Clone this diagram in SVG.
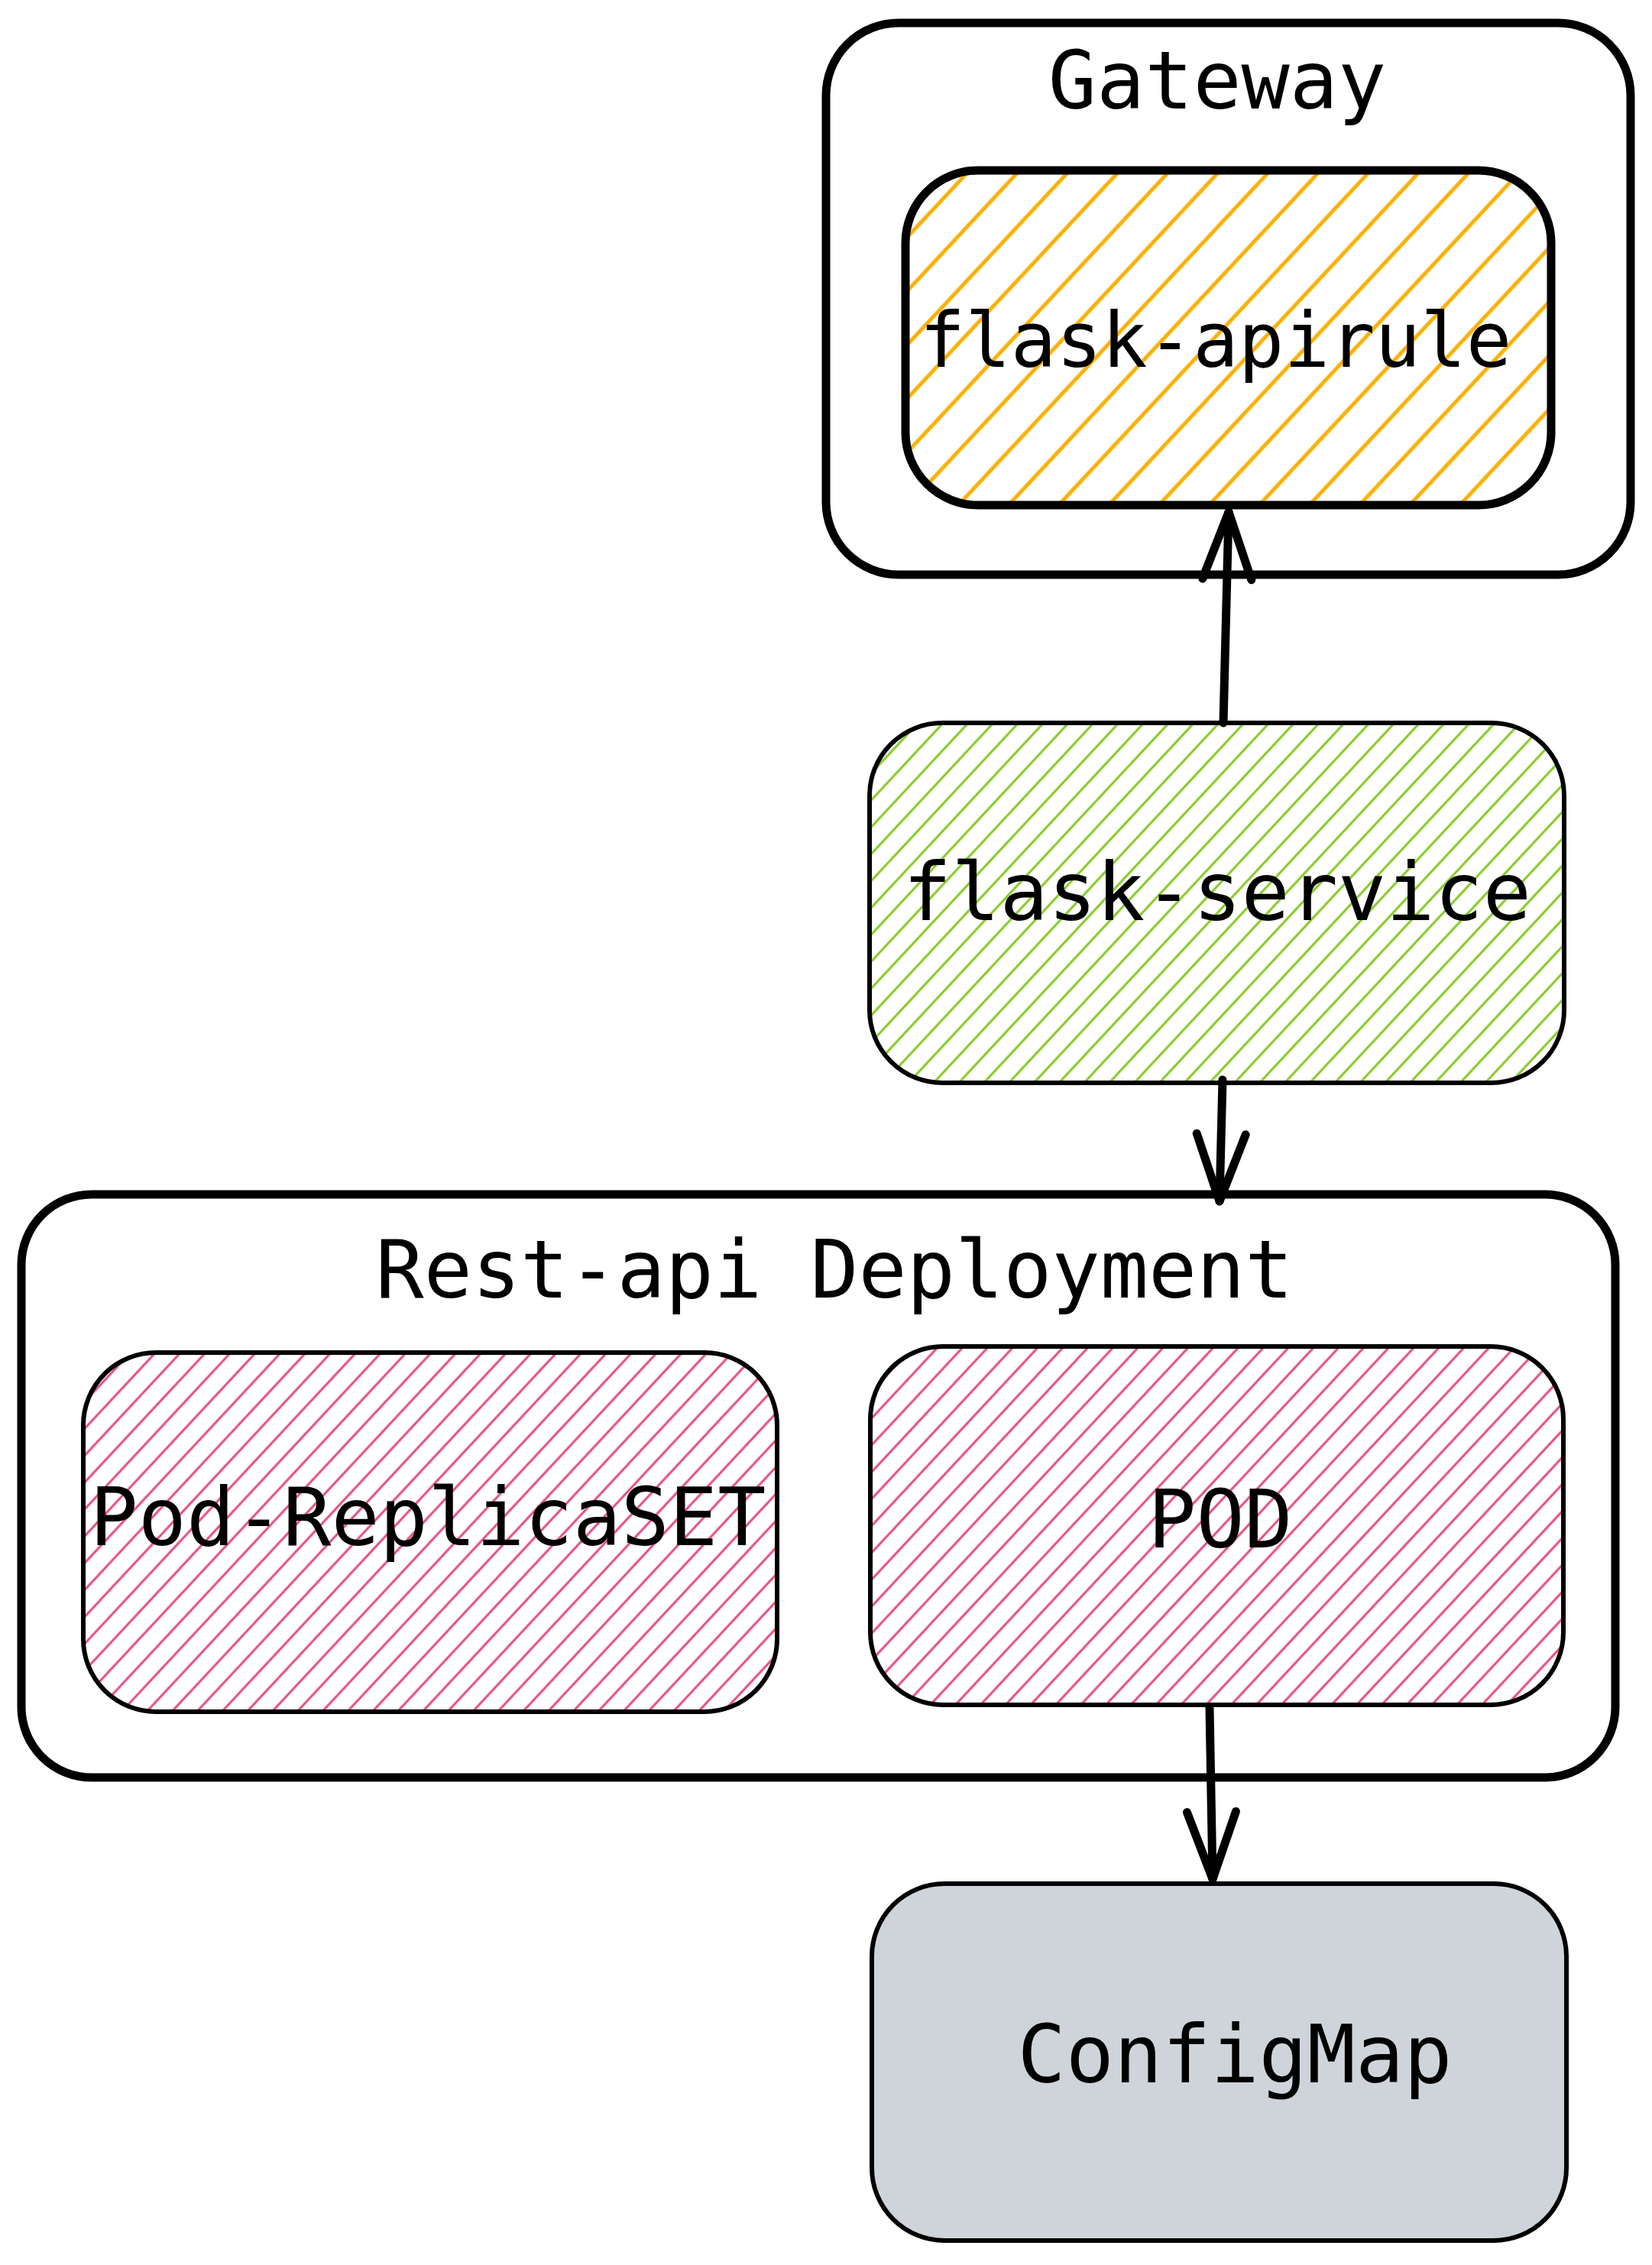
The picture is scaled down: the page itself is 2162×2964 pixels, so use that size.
<svg xmlns="http://www.w3.org/2000/svg" width="2162" height="2964" viewBox="0 0 2162 2964">
<style>
.box{fill:none;stroke:#000;stroke-linejoin:round}
.thick{stroke-width:11}
.thin{stroke-width:6}
.lbl{font-family:"DejaVu Sans Mono","Liberation Mono",monospace;font-size:105px;fill:#000;text-anchor:middle}
.conn{fill:none;stroke:#000;stroke-width:11;stroke-linecap:round;stroke-linejoin:round}
</style>
<defs>
<pattern id="hOrange" patternUnits="userSpaceOnUse" width="48" height="48" patternTransform="rotate(43)">
<line x1="24" y1="-2" x2="24" y2="50" stroke="#fab005" stroke-width="5"/>
</pattern>
<pattern id="hGreen" patternUnits="userSpaceOnUse" width="24" height="24" patternTransform="rotate(43)">
<line x1="12" y1="-2" x2="12" y2="26" stroke="#82c91e" stroke-width="3"/>
</pattern>
<pattern id="hRed" patternUnits="userSpaceOnUse" width="24" height="24" patternTransform="rotate(43)">
<line x1="12" y1="-2" x2="12" y2="26" stroke="#e64980" stroke-width="3"/>
</pattern>
<marker id="arrow" markerUnits="userSpaceOnUse" markerWidth="10" markerHeight="10" refX="0" refY="0" orient="auto" style="overflow:visible">
<path d="M-88,-32 L0,0 L-88,32" fill="none" stroke="#000" stroke-width="11" stroke-linecap="round" stroke-linejoin="round"/>
</marker>
</defs>

<g id="gateway">
<rect class="box thick" x="1081" y="30" width="1053" height="722" rx="95" ry="95"/>
<text class="lbl" x="1593" y="142">Gateway</text>
</g>

<g id="flask-apirule">
<rect x="1185" y="223" width="845" height="438" rx="95" ry="95" fill="url(#hOrange)"/>
<rect class="box thick" x="1185" y="223" width="845" height="438" rx="95" ry="95"/>
<text class="lbl" x="1591" y="480" style="font-size:99px">flask-apirule</text>
</g>

<g id="flask-service">
<rect x="1138" y="946" width="909" height="471" rx="95" ry="95" fill="url(#hGreen)"/>
<rect class="box thin" x="1138" y="946" width="909" height="471" rx="95" ry="95"/>
<text class="lbl" x="1593" y="1204">flask-service</text>
</g>

<g id="rest-api-deployment">
<rect class="box thick" x="28" y="1563" width="2086" height="763" rx="92" ry="92"/>
<text class="lbl" x="1092" y="1698">Rest-api Deployment</text>
</g>

<g id="pod-replicaset">
<rect x="109" y="1770" width="908" height="470" rx="95" ry="95" fill="url(#hRed)"/>
<rect class="box thin" x="109" y="1770" width="908" height="470" rx="95" ry="95"/>
<text class="lbl" x="560" y="2022">Pod-ReplicaSET</text>
</g>

<g id="pod">
<rect x="1139" y="1762" width="907" height="469" rx="95" ry="95" fill="url(#hRed)"/>
<rect class="box thin" x="1139" y="1762" width="907" height="469" rx="95" ry="95"/>
<text class="lbl" x="1597" y="2025">POD</text>
</g>

<g id="configmap">
<rect class="box thin" x="1141" y="2465" width="909" height="467" rx="95" ry="95" style="fill:#ced4da"/>
<text class="lbl" x="1616" y="2725">ConfigMap</text>
</g>

<g id="connectors">
<line class="conn" x1="1601" y1="946" x2="1608" y2="670" marker-end="url(#arrow)"/>
<line class="conn" x1="1600" y1="1413" x2="1596" y2="1572" marker-end="url(#arrow)"/>
<line class="conn" x1="1583" y1="2235" x2="1587" y2="2459" marker-end="url(#arrow)"/>
</g>
</svg>
